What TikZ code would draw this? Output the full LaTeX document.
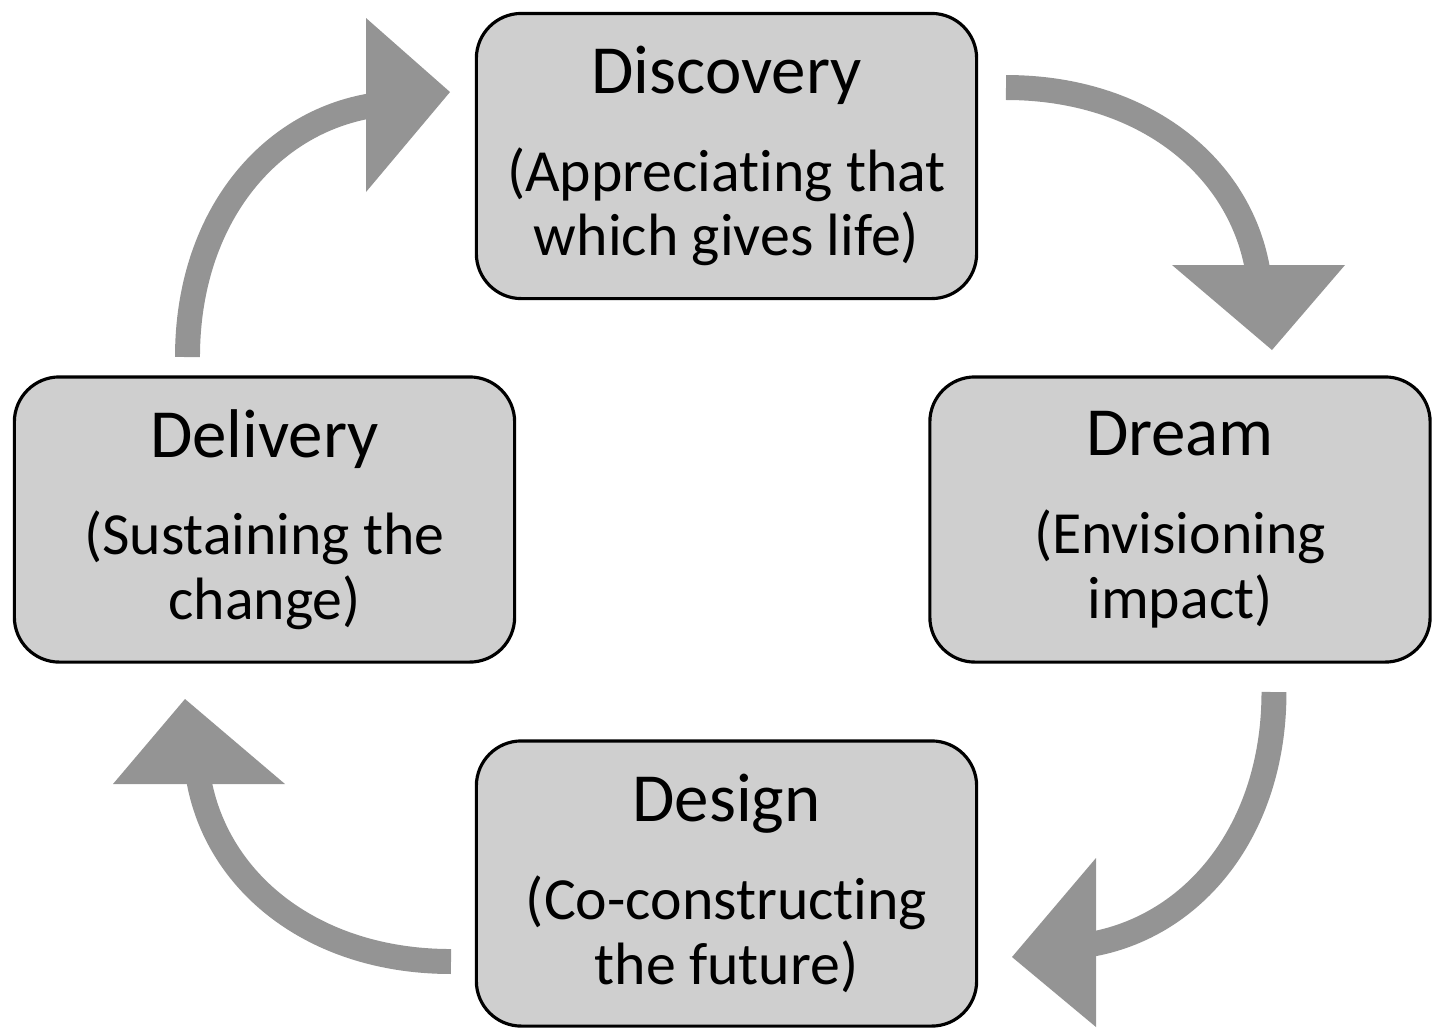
\documentclass[tikz,border=0pt]{standalone}
\usepackage{fontspec}
\setmainfont[Ligatures=NoCommon]{Carlito}
\newcommand\stagefont{\fontsize{19.6}{23}\selectfont}

\begin{document}
\begin{tikzpicture}[x=0.01cm,y=-0.01cm,
 stage/.style={draw=black,line width=0.9pt,fill=black!19,rounded corners=4.5mm,
  minimum width=5cm,minimum height=2.85cm,align=center,
  font=\fontsize{17}{18.4}\selectfont},
 band/.style={draw=black!42,line width=7.1pt},
 barb/.style={fill=black!42}]
 \useasboundingbox (0,0) rectangle (1438,1029);
 \node[stage] (discovery) at (726.5,156) {{\stagefont Discovery}\\[9.4pt](Appreciating that\\which gives life)};
 \node[stage] (dream) at (1180,519.5) {{\stagefont Dream}\\[9.4pt](Envisioning\\impact)};
 \node[stage] (design) at (726.5,883.5) {{\stagefont Design}\\[9.4pt](Co-constructing\\the future)};
 \node[stage] (delivery) at (264.5,519.5) {{\stagefont Delivery}\\[9.4pt](Sustaining the\\change)};
 \coordinate (s1) at (1006,87.5);
 \coordinate (e1) at (1258,272);
 \coordinate (s2) at (1274,692);
 \coordinate (e2) at (1089,944.7);
 \coordinate (s3) at (451,961.5);
 \coordinate (e3) at (198.3,777);
 \coordinate (s4) at (187.5,357);
 \coordinate (e4) at (373,105.4);
 \draw[band] (s1) .. controls (1144,87.5) and (1241,167) .. (e1);
 \fill[barb] (1172,265) -- (1345,265) -- (1272,350) -- cycle;
 \draw[band] (s2) .. controls (1274,830) and (1194,927) .. (e2);
 \fill[barb] (1096,858) -- (1096,1027) -- (1012,957) -- cycle;
 \draw[band] (s3) .. controls (313,961.5) and (215.7,882) .. (e3);
 \fill[barb] (113,784) -- (285,784) -- (185,699) -- cycle;
 \draw[band] (s4) .. controls (187.5,219) and (268,122) .. (e4);
 \fill[barb] (366,18) -- (366,192) -- (450,92) -- cycle;
\end{tikzpicture}
\end{document}
